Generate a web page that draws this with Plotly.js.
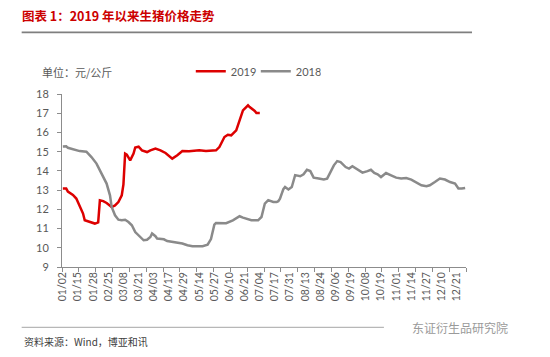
<!DOCTYPE html>
<html>
<head>
<meta charset="utf-8">
<script src="https://cdn.plot.ly/plotly-3.0.1.min.js"></script>
<style>html,body{margin:0;padding:0;background:#fff;}#chart{width:550px;height:357px;}</style>
</head>
<body>
<div id="chart"></div>
<script>
// Category positions (trading-day index) and prices, yuan/kg
const tickLabels = ["01/02","01/15","01/28","02/25","03/08","03/21","04/03","04/17","04/29","05/14","05/27","06/10","06/21","07/04","07/17","07/31","08/13","08/24","09/06","09/19","10/08","10/19","11/01","11/14","11/27","12/10","12/21"];

const idx2019 = [0,1,2,3,6,8,10,12,13,15,17,19,21,22,24,26,29,31,33,35,36,37,38,39,40,42,43,45,47,50,52,55,58,61,65,68,71,75,81,85,91,93,96,98,100,103,105,107,110,111,114,115,117];
const val2019 = [13.08,13.1,13.08,12.92,12.75,12.56,12.2,11.78,11.43,11.38,11.34,11.26,11.32,12.47,12.43,12.33,12.12,12.2,12.38,12.73,13.3,14.9,14.85,14.7,14.55,14.9,15.22,15.26,15.07,14.98,15.07,15.16,15.07,14.93,14.64,14.81,15.03,15.02,15.07,15.03,15.07,15.24,15.76,15.88,15.85,16.11,16.63,17.15,17.41,17.32,17.12,17.01,17.01];

const idx2018 = [0,2,3,7,10,14,17,20,23,26,28,29,31,33,35,37,39,41,43,46,48,50,52,53,55,56,60,62,66,71,74,77,83,86,88,90,91,97,101,105,107,112,116,118,120,122,125,127,128,129,131,132,134,136,138,141,143,145,147,149,152,155,157,159,161,163,165,168,170,172,175,178,181,183,185,187,189,191,192,195,198,201,204,207,210,213,216,218,221,224,227,230,233,235,237,239];
const val2018 = [15.27,15.28,15.2,15.1,15.03,15.0,14.72,14.38,13.86,13.34,12.73,12.12,11.69,11.46,11.43,11.46,11.34,11.17,10.82,10.53,10.39,10.42,10.56,10.74,10.6,10.48,10.44,10.35,10.3,10.22,10.13,10.08,10.08,10.16,10.45,11.2,11.29,11.28,11.43,11.64,11.57,11.43,11.43,11.6,12.3,12.48,12.38,12.38,12.42,12.55,13.05,13.16,13.03,13.16,13.78,13.72,13.82,14.06,13.99,13.65,13.6,13.55,13.6,13.94,14.29,14.51,14.46,14.2,14.12,14.24,14.07,13.91,13.99,14.06,13.89,13.82,13.68,13.82,13.89,13.77,13.65,13.6,13.63,13.55,13.42,13.25,13.2,13.25,13.42,13.6,13.55,13.42,13.34,13.08,13.08,13.11];

const labelStep = 9;   // one label every 9 categories
const tickStep = 10;   // one tick mark every 10 categories
const nCats = 240;

const tickVals = tickLabels.map((_, i) => i * labelStep);

const L = 62.3, R = 466, T = 93.7, B = 266.7, W = 550, H = 357;
const px = x => (x - L) / (R - L);
const py = y => (B - y) / (B - T);

const cjk = '"Noto Sans CJK SC", sans-serif';
const num = 'Lato, "Liberation Sans", sans-serif';

const traces = [
  {x: idx2019, y: val2019, name: '2019', type: 'scatter', mode: 'lines',
   line: {color: '#dd0000', width: 2.5}, hoverinfo: 'skip'},
  {x: idx2018, y: val2018, name: '2018', type: 'scatter', mode: 'lines',
   line: {color: '#8a8a8a', width: 2.5}, hoverinfo: 'skip'}
];

const layout = {
  width: W, height: H,
  margin: {l: L, r: W - R, t: T, b: H - B, pad: 0},
  paper_bgcolor: '#fff', plot_bgcolor: '#fff',
  title: {text: '图表 1：2019 年以来生猪价格走势', font: {family: cjk, size: 12.5, color: '#cc0000', weight: 'bold'},
          xref: 'container', yref: 'container', x: 22 / W, xanchor: 'left', y: 1 - 17 / H, yanchor: 'middle'},
  showlegend: true,
  legend: {orientation: 'h', x: px(191), xanchor: 'left', y: py(71), yanchor: 'middle',
           font: {family: num, size: 11, color: '#595959'}, bgcolor: 'rgba(0,0,0,0)', entrywidth: 20, tracegroupgap: 0},
  xaxis: {range: [-0.5, nCats - 0.5], tickmode: 'array', tickvals: tickVals, ticktext: tickLabels,
          tickangle: -90, ticks: '', showline: true, linecolor: '#8c8c8c', linewidth: 1,
          showgrid: false, zeroline: false, tickfont: {family: num, size: 10.5, color: '#595959'},
          minor: {tickmode: 'linear', tick0: -0.5, dtick: tickStep, ticks: 'outside', ticklen: 4, tickcolor: '#8c8c8c', tickwidth: 1, showgrid: false}},
  yaxis: {range: [9, 18], dtick: 1, tick0: 9, ticks: 'outside', ticklen: 4, tickcolor: '#8c8c8c',
          showline: true, linecolor: '#8c8c8c', linewidth: 1, showgrid: false, zeroline: false,
          ticklabelstandoff: 6,
          tickfont: {family: num, size: 11, color: '#595959'}},
  shapes: [
    {type: 'line', xref: 'paper', yref: 'paper', x0: px(22), x1: px(472), y0: py(32), y1: py(32),
     line: {color: '#7f7f7f', width: 1.8}},
    {type: 'line', xref: 'paper', yref: 'paper', x0: px(22), x1: px(384), y0: py(327), y1: py(327),
     line: {color: '#a6a6a6', width: 1}}
  ],
  annotations: [
    {text: '单位：元/公斤', xref: 'paper', yref: 'paper', x: px(40), y: py(72), xanchor: 'left', yanchor: 'middle',
     showarrow: false, font: {family: cjk, size: 11, color: '#595959'}},
    {text: '资料来源：Wind，博亚和讯', xref: 'paper', yref: 'paper', x: px(22), y: py(341), xanchor: 'left', yanchor: 'middle',
     showarrow: false, font: {family: cjk, size: 10, color: '#404040'}},
    {text: '东证衍生品研究院', xref: 'paper', yref: 'paper', x: px(410), y: py(327), xanchor: 'left', yanchor: 'middle',
     showarrow: false, font: {family: cjk, size: 12, color: '#9a9a9a'}}
  ]
};

Plotly.newPlot('chart', traces, layout, {staticPlot: true, displayModeBar: false});
</script>
</body>
</html>
